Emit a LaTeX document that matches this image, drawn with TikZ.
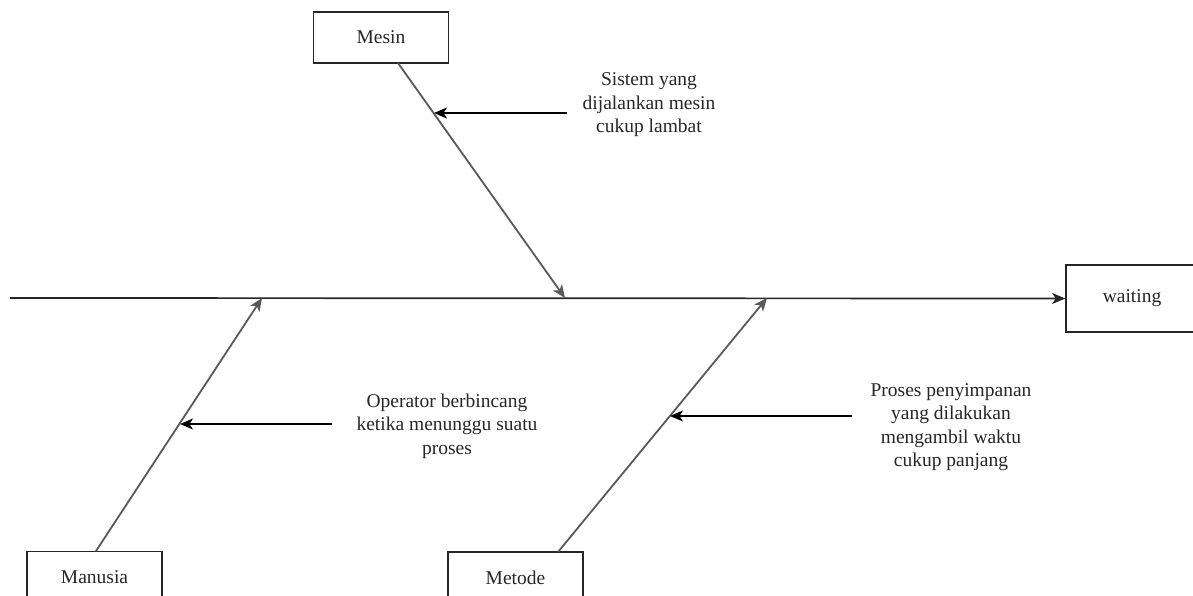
\documentclass[tikz,border=0pt]{standalone}
\usepackage{fontspec}
\setmainfont{Liberation Serif}
\usetikzlibrary{arrows.meta}
\begin{document}
\begin{tikzpicture}[x=1pt,y=-1pt,
  catbox/.style={draw=black!85, line width=1.6pt, rectangle, inner sep=0pt,
    minimum width=135pt, minimum height=51pt, text=black!85,
    font=\fontsize{19.5}{23}\selectfont},
  note/.style={align=center, inner sep=0pt, text=black!85,
    font=\fontsize{19.5}{23.5}\selectfont},
  bone/.style={draw=black!65, line width=1.8pt,
    -{Stealth[length=13pt,width=11pt,inset=3.5pt]}},
  spine/.style={draw=black!85, line width=1.7pt,
    -{Stealth[length=13pt,width=11pt,inset=3.5pt]}},
  cause/.style={draw=black, line width=1.5pt,
    -{Stealth[length=13pt,width=11pt,inset=3.5pt]}}]
\useasboundingbox (0,0) rectangle (1193,596);
\clip (0,0) rectangle (1193,596);
% boxes
\node[catbox] (mesin) at (381,37.5) {Mesin};
\node[catbox] (manusia) at (94.5,577) {Manusia};
\node[catbox] (metode) at (515.5,577.5) {Metode};
\node[catbox, minimum width=132pt, minimum height=67pt] (waiting) at (1132,298.5) {waiting};
% notes
\node[note] (n1) at (649,105) {Sistem yang\\dijalankan mesin\\cukup lambat};
\node[note] (n2) at (447,426) {Operator berbincang\\ketika menunggu suatu\\proses};
\node[note] (n3) at (951,427) {Proses penyimpanan\\yang dilakukan\\mengambil waktu\\cukup panjang};
% coordinates
\coordinate (s0) at (10,298);
\coordinate (b1s) at (398,63);
\coordinate (b1e) at (565,298);
\coordinate (b2s) at (96,551);
\coordinate (b2e) at (262,298);
\coordinate (b3s) at (558,552);
\coordinate (b3e) at (767,298);
\coordinate (c1s) at (567,113);
\coordinate (c1e) at (434,113);
\coordinate (c2s) at (332,424);
\coordinate (c2e) at (180,424);
\coordinate (c3s) at (852,416);
\coordinate (c3e) at (670,416);
% spine
\draw[spine] (s0) -- (waiting.west);
% bones
\draw[bone] (b1s) -- (b1e);
\draw[bone] (b2s) -- (b2e);
\draw[bone] (b3s) -- (b3e);
% causes
\draw[cause] (c1s) -- (c1e);
\draw[cause] (c2s) -- (c2e);
\draw[cause] (c3s) -- (c3e);
\end{tikzpicture}
\end{document}
